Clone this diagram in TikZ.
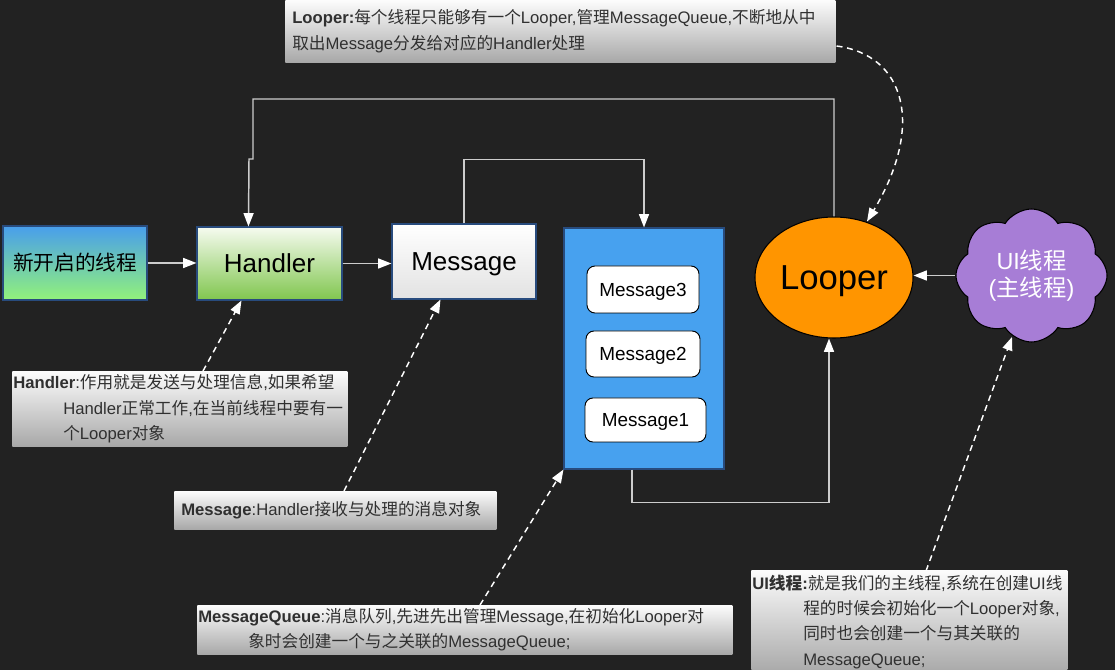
\documentclass[tikz,border=0pt]{standalone}
\usepackage{fontspec}
\setmainfont{Liberation Sans}
\newfontfamily\cjk{Noto Sans CJK SC}
\usetikzlibrary{arrows.meta,shapes.geometric,shapes.symbols,calc}
\definecolor{bgc}{RGB}{34,34,34}
\definecolor{linec}{RGB}{205,205,205}
\definecolor{bordc}{RGB}{40,75,125}
\definecolor{threadtop}{RGB}{72,158,236}
\definecolor{threadbot}{RGB}{146,242,122}
\definecolor{handtop}{RGB}{246,251,240}
\definecolor{handbot}{RGB}{128,198,78}
\definecolor{msgbot}{RGB}{226,226,226}
\definecolor{mqc}{RGB}{71,161,239}
\definecolor{looperc}{RGB}{255,149,0}
\definecolor{cloudc}{RGB}{167,125,214}
\definecolor{notetop}{RGB}{252,252,252}
\definecolor{notebot}{RGB}{168,168,168}
\definecolor{notetext}{RGB}{48,48,48}
\newcommand\nfnt{\fontsize{12.5pt}{19pt}\selectfont}
\begin{document}
\begin{tikzpicture}[x=0.75pt,y=-0.75pt,
  box/.style={draw=bordc, line width=0.8pt, inner sep=0pt, text=black},
  msgitem/.style={draw=black, line width=0.7pt, fill=white, rounded corners=6pt, inner sep=0pt,
    text depth=0pt, font=\fontsize{14.2pt}{16pt}\selectfont},
  note/.style={top color=notetop, bottom color=notebot, draw=none, anchor=north west,
    inner ysep=0pt, align=left, text=notetext, font=\nfnt},
  conn/.style={draw=linec, line width=1.1pt, -{Triangle[length=10pt,width=7.5pt,color=white]}},
  dconn/.style={draw=white, line width=1.1pt, dash pattern=on 4.5pt off 3.5pt,
    -{Triangle[length=10pt,width=7.5pt,color=white]}}
]
\fill[bgc] (0,0) rectangle (1115,670);
\useasboundingbox (0,0) rectangle (1115,670);

% main boxes
\node[box, top color=threadtop, bottom color=threadbot, minimum width=108pt, minimum height=55.5pt,
  font=\fontsize{15.5pt}{18pt}\selectfont] (thread) at (75,263) {{\cjk 新开启的线程}};
\node[box, top color=handtop, bottom color=handbot, minimum width=108.75pt, minimum height=54.75pt,
  text depth=0pt, font=\fontsize{19.5pt}{22pt}\selectfont] (handler) at (269.5,263.5) {Handler};
\node[box, top color=white, bottom color=msgbot, minimum width=108pt, minimum height=56.25pt,
  text depth=0pt, font=\fontsize{19.5pt}{22pt}\selectfont] (message) at (464,261.5) {Message};
\node[box, fill=mqc, draw=bordc, minimum width=120pt, minimum height=180.75pt] (mq) at (644,348.5) {};
\node[msgitem, minimum width=84pt, minimum height=35.25pt] (m3) at (643,289.5) {Message3};
\node[msgitem, minimum width=85.5pt, minimum height=34.5pt] (m2) at (643,354) {Message2};
\node[msgitem, minimum width=90.75pt, minimum height=33pt] (m1) at (645.5,420) {Message1};
\node[ellipse, draw=black, line width=0.8pt, fill=looperc, inner sep=0pt, minimum width=118.5pt,
  minimum height=90.75pt, text depth=0pt, font=\fontsize{26pt}{30pt}\selectfont] (looper) at (834,277.5) {Looper};
\node[cloud, cloud puffs=8, cloud puff arc=115, aspect=1.12, draw=black, line width=0.8pt,
  fill=cloudc, inner sep=0pt, minimum width=113.25pt, minimum height=99.75pt, text=white,
  align=center, font=\fontsize{17.5pt}{20.25pt}\selectfont] (cloud) at (1031.5,275.5)
  {UI{\cjk 线程}\\({\cjk 主线程})};

% notes
\node[note, minimum width=412.5pt, minimum height=46.5pt, text width=402pt, inner xsep=5.25pt]
  (lnote) at (285,0)
  {\textbf{Looper:}{\cjk 每个线程只能够有一个}Looper,{\cjk 管理}MessageQueue,{\cjk 不断地从中}\\
   {\cjk 取出}Message{\cjk 分发给对应的}Handler{\cjk 处理}};
\node[note, minimum width=251.25pt, minimum height=56.25pt, text width=249.75pt, inner xsep=0.75pt]
  (hnote) at (12,371)
  {\textbf{Handler}:{\cjk 作用就是发送与处理信息},{\cjk 如果希望}\\
   \hspace*{37.5pt}Handler{\cjk 正常工作},{\cjk 在当前线程中要有一}\\
   \hspace*{37.5pt}{\cjk 个}Looper{\cjk 对象}};
\node[note, minimum width=241.5pt, minimum height=28.5pt, text width=231pt, inner xsep=5.25pt]
  (msgnote) at (174,491)
  {\textbf{Message}:Handler{\cjk 接收与处理的消息对象}};
\node[note, minimum width=401.25pt, minimum height=36.75pt, text width=399.75pt, inner xsep=0.75pt]
  (mqnote) at (197,605)
  {\textbf{MessageQueue}:{\cjk 消息队列},{\cjk 先进先出管理}Message,{\cjk 在初始化}Looper{\cjk 对}\\
   \hspace*{37.5pt}{\cjk 象时会创建一个与之关联的}MessageQueue;};
\node[note, minimum width=237pt, minimum height=77.25pt, text width=235.5pt, inner xsep=0.75pt]
  (uinote) at (751,570)
  {\textbf{UI{\cjk 线程}:}{\cjk 就是我们的主线程},{\cjk 系统在创建}UI{\cjk 线}\\
   \hspace*{38.25pt}{\cjk 程的时候会初始化一个}Looper{\cjk 对象},\\
   \hspace*{38.25pt}{\cjk 同时也会创建一个与其关联的}\\
   \hspace*{38.25pt}MessageQueue;};

% solid connectors
\draw[conn] (thread.east) -- (thread.east -| handler.west);
\draw[conn] (handler.east) -- (handler.east -| message.west);
\draw[conn] (message.north) -- ++(0,-64) -| (mq.north);
\coordinate (hin) at ($(handler.north west)+(52,0)$);
\draw[conn] (looper.north) |- (253,99) -- (253,159) -- (249,159) -- (hin);
\coordinate (mqout) at ($(mq.south)+(-12,0)$);
\coordinate (lin) at ($(looper.south)+(-5,0)$);
\draw[conn] (mqout) -- ++(0,33) -| (lin);
\draw[conn] (cloud.west) -- (cloud.west -| looper.east);

% dashed connectors
\draw[dconn] ($(hnote.north west)+(191,0)$) -- ($(handler.south west)+(45,0)$);
\draw[dconn] ($(msgnote.north west)+(170,0)$) -- ($(message.south west)+(49,0)$);
\draw[dconn] ($(mqnote.north west)+(283,0)$) -- (mq.south west);
\draw[dconn] ($(uinote.north west)+(175,1)$) -- ($(cloud.center)+(-19.5,61.5)$);
\draw[dconn] ($(lnote.north east)+(1,46)$) .. controls (905,55) and (925,125) .. ($(looper.center)+(33,-56)$);
\end{tikzpicture}
\end{document}
